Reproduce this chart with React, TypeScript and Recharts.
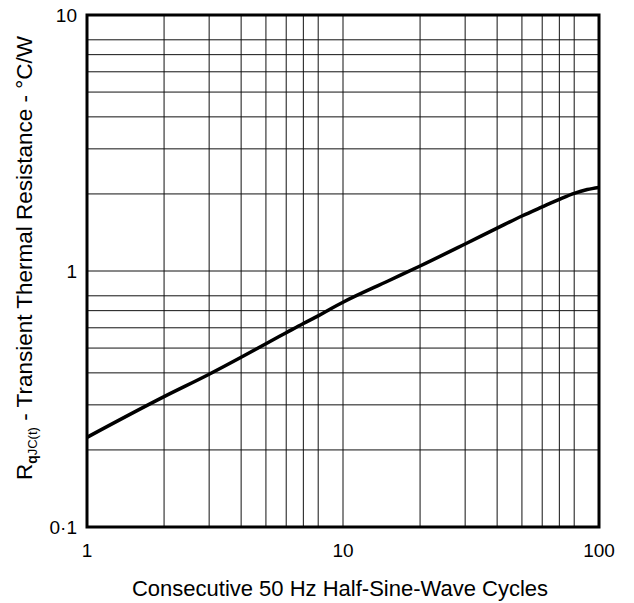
import React from "react";
import { CartesianGrid, Line, LineChart, ReferenceArea, XAxis, YAxis } from "recharts";

const cycles = [1, 2, 3, 4, 5, 6, 7, 8, 9, 10, 15, 20, 30, 40, 50, 60, 70, 80, 90, 100];
const resistance = [0.224, 0.323, 0.395, 0.46, 0.52, 0.574, 0.624, 0.668, 0.714, 0.755, 0.914, 1.046, 1.275, 1.47, 1.64, 1.78, 1.905, 2.01, 2.08, 2.12];

const xTicks = [1, 2, 3, 4, 5, 6, 7, 8, 9, 10, 20, 30, 40, 50, 60, 70, 80, 90, 100];
const yTicks = [0.1, 0.2, 0.3, 0.4, 0.5, 0.6, 0.7, 0.8, 0.9, 1, 2, 3, 4, 5, 6, 7, 8, 9, 10];
const xLabels: Record<number, string> = { 1: "1", 10: "10", 100: "100" };
const yLabels: Record<number, string> = { 0.1: "0·1", 1: "1", 10: "10" };

const data = cycles.map((c, i) => ({ cycles: c, r: resistance[i] }));

const FONT = "'Liberation Sans', Arial, Helvetica, sans-serif";

function YTitle(props: any) {
  const vb = props.viewBox || { x: 27, y: 15, width: 60, height: 512 };
  const x = vb.x + 5;
  const y = vb.y + vb.height / 2 - 13;
  return (
    <text
      x={x}
      y={y}
      transform={`rotate(-90, ${x}, ${y})`}
      textAnchor="middle"
      fontFamily={FONT}
      fontSize={22.5}
      fill="#000"
    >
      <tspan>R</tspan>
      <tspan fontSize={14} fontWeight="bold" dy={5}>q</tspan>
      <tspan fontSize={13}>JC(t)</tspan>
      <tspan dy={-5}> - Transient Thermal Resistance - °C/W</tspan>
    </text>
  );
}

function XTitle(props: any) {
  const vb = props.viewBox || { x: 87, y: 527, width: 512, height: 60 };
  return (
    <text
      x={vb.x + vb.width / 2 - 3}
      y={596}
      textAnchor="middle"
      fontFamily={FONT}
      fontSize={22}
      fill="#000"
    >
      Consecutive 50 Hz Half-Sine-Wave Cycles
    </text>
  );
}

export default function App() {
  return (
    <div style={{ position: "absolute", left: 0, top: 0, background: "#fff" }}>
      <LineChart
        width={634}
        height={603}
        data={data}
        margin={{ top: 15, right: 35, bottom: 16, left: 27 }}
        style={{ fontFamily: FONT }}
      >
        <CartesianGrid stroke="#111" strokeWidth={1} />
        <XAxis
          dataKey="cycles"
          type="number"
          scale="log"
          domain={[1, 100]}
          ticks={xTicks}
          tickFormatter={(v: number) => xLabels[v] ?? ""}
          allowDataOverflow
          axisLine={false}
          tickLine={false}
          tickSize={0}
          tickMargin={17}
          height={60}
          tick={{ fill: "#000", fontSize: 19 }}
          label={<XTitle />}
        />
        <YAxis
          type="number"
          scale="log"
          domain={[0.1, 10]}
          ticks={yTicks}
          tickFormatter={(v: number) => yLabels[v] ?? ""}
          allowDataOverflow
          axisLine={false}
          tickLine={false}
          tickSize={0}
          tickMargin={10}
          width={60}
          tick={{ fill: "#000", fontSize: 19 }}
          label={<YTitle />}
        />
        <ReferenceArea
          x1={1}
          x2={100}
          y1={0.1}
          y2={10}
          fill="none"
          stroke="#000"
          strokeWidth={3}
          ifOverflow="visible"
        />
        <Line
          type="monotone"
          dataKey="r"
          stroke="#000"
          strokeWidth={3.5}
          dot={false}
          isAnimationActive={false}
        />
      </LineChart>
    </div>
  );
}
